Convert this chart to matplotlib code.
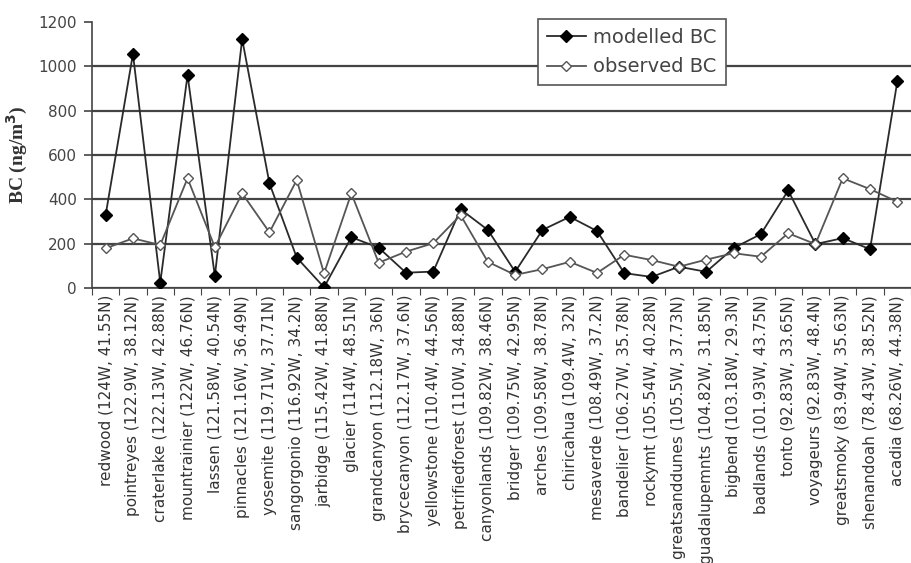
import matplotlib
matplotlib.use("Agg")
import matplotlib.pyplot as plt
import numpy as np

sites = ["redwood (124W, 41.55N)", "pointreyes (122.9W, 38.12N)",
         "craterlake (122.13W, 42.88N)", "mountrainier (122W, 46.76N)",
         "lassen (121.58W, 40.54N)", "pinnacles (121.16W, 36.49N)",
         "yosemite (119.71W, 37.71N)", "sangorgonio (116.92W, 34.2N)",
         "jarbidge (115.42W, 41.88N)", "glacier (114W, 48.51N)",
         "grandcanyon (112.18W, 36N)", "brycecanyon (112.17W, 37.6N)",
         "yellowstone (110.4W, 44.56N)", "petrifiedforest (110W, 34.88N)",
         "canyonlands (109.82W, 38.46N)", "bridger (109.75W, 42.95N)",
         "arches (109.58W, 38.78N)", "chiricahua (109.4W, 32N)",
         "mesaverde (108.49W, 37.2N)", "bandelier (106.27W, 35.78N)",
         "rockymt (105.54W, 40.28N)", "greatsanddunes (105.5W, 37.73N)",
         "guadalupemnts (104.82W, 31.85N)", "bigbend (103.18W, 29.3N)",
         "badlands (101.93W, 43.75N)", "tonto (92.83W, 33.65N)",
         "voyageurs (92.83W, 48.4N)", "greatsmoky (83.94W, 35.63N)",
         "shenandoah (78.43W, 38.52N)", "acadia (68.26W, 44.38N)"]

modelled = [330, 1056, 24, 961, 54, 1123, 472, 137, 3, 229,
            182, 69, 74, 355, 262, 73, 262, 321, 257, 67,
            50, 96, 73, 180, 243, 440, 198, 225, 175, 933]
observed = [179, 224, 194, 495, 184, 427, 251, 487, 66, 427,
            114, 164, 202, 329, 118, 59, 85, 118, 68, 150,
            126, 96, 128, 157, 141, 247, 198, 495, 446, 389]

plt.rcParams['font.family'] = ['DejaVu Sans']

fig = plt.figure(figsize=(9.11, 5.63), dpi=100)
ax = fig.add_axes([92 / 911, (563 - 288) / 563, 1 - 92 / 911, (288 - 22) / 563])

x = np.arange(len(sites))
ax.plot(x, modelled, color='#2a2a2a', lw=1.3, marker='D', ms=6,
        mfc='black', mec='black', label='modelled BC', zorder=3)
ax.plot(x, observed, color='#555555', lw=1.3, marker='D', ms=5.5,
        mfc='white', mec='#555555', label='observed BC', zorder=3)

ax.set_ylim(0, 1200)
ax.set_xlim(-0.5, 29.15)
ax.set_yticks(range(0, 1201, 200))
ax.yaxis.grid(True, color='#444444', lw=1.6)
ax.get_ygridlines()[-1].set_visible(False)
ax.set_axisbelow(True)
for s in ['top', 'right']:
    ax.spines[s].set_visible(False)
ax.spines['left'].set_color('#444444')
ax.spines['bottom'].set_color('#444444')
ax.spines['left'].set_linewidth(1.2)
ax.spines['bottom'].set_linewidth(1.2)

ax.set_xticks(np.arange(len(sites) + 1) - 0.5, minor=False)
ax.set_xticklabels([])
ax.set_xticks(x, minor=True)
ax.set_xticklabels(sites, minor=True, rotation=90, fontsize=11, color='#333333')
ax.tick_params(axis='x', which='minor', length=0, pad=5)
ax.tick_params(axis='x', which='major', length=5, color='#444444')
ax.tick_params(axis='y', length=6, width=1.2, color='#444444', labelsize=11,
               labelcolor='#444444', pad=5)

ax.set_ylabel('BC (ng/m$^\\mathbf{3}$)', family='Liberation Serif', fontweight='bold',
              fontsize=14, color='#333333', labelpad=6)

leg = ax.legend(loc='upper left', fontsize=14,
                frameon=True, fancybox=False, framealpha=1, edgecolor='#555555',
                handlelength=2.0, borderpad=0.45, labelspacing=0.55, handletextpad=0.4,
                borderaxespad=0)
leg.set_bbox_to_anchor((538 / 911, (563 - 19) / 563), transform=fig.transFigure)
leg.get_frame().set_linewidth(1.2)
for t in leg.get_texts():
    t.set_color('#444444')

fig.savefig('out.png', dpi=100)
